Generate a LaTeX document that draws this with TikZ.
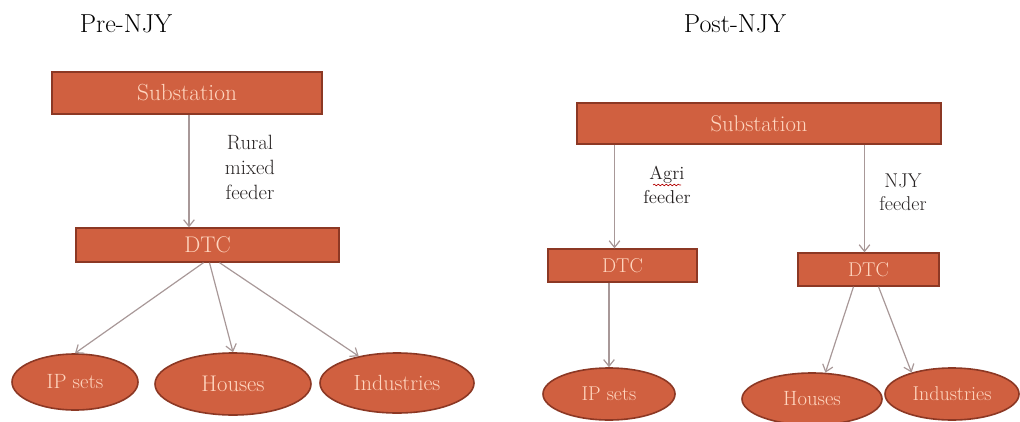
\documentclass[tikz,border=0pt]{standalone}
\usetikzlibrary{shapes.geometric,arrows.meta,calc,decorations.pathmorphing}
\definecolor{boxfill}{RGB}{208,96,64}
\definecolor{boxline}{RGB}{140,56,36}
\definecolor{boxtext}{RGB}{255,214,192}
\definecolor{arrowcol}{RGB}{168,152,152}
\definecolor{labelcol}{RGB}{40,36,36}
\tikzset{
  rbox/.style={rectangle, draw=boxline, fill=boxfill, line width=1pt, text=boxtext, inner sep=0pt, align=center},
  oval/.style={ellipse, draw=boxline, fill=boxfill, line width=1.2pt, text=boxtext, inner sep=0pt, align=center},
  conn/.style={draw=arrowcol, line width=0.9pt, -{Straight Barb[length=5pt,width=8pt]}},
  lbl/.style={text=labelcol, align=center, inner sep=0pt},
  ttl/.style={text=black, inner sep=0pt, font=\fontsize{19.5}{23}\selectfont}
}
\begin{document}
\begin{tikzpicture}[x=0.75pt,y=-0.75pt]
\path[use as bounding box] (0,0) rectangle (1020,421);

% ---------- Pre-NJY ----------
\node[ttl] (t1) at (126,24) {Pre-NJY};
\node[rbox, minimum width=270*0.75pt, minimum height=42*0.75pt, font=\fontsize{17.5}{20}\selectfont] (s1) at (187,93) {Substation};
\node[rbox, minimum width=263*0.75pt, minimum height=34*0.75pt, font=\fontsize{17}{20}\selectfont] (d1) at (207.5,245) {DTC};
\node[oval, minimum width=126*0.75pt, minimum height=56*0.75pt, font=\fontsize{15.5}{18}\selectfont] (ip1) at (75,382) {IP sets};
\node[oval, minimum width=156*0.75pt, minimum height=62*0.75pt, font=\fontsize{17}{20}\selectfont] (h1) at (233,384) {Houses};
\node[oval, minimum width=154*0.75pt, minimum height=60*0.75pt, font=\fontsize{16.5}{20}\selectfont] (i1) at (397,383) {Industries};
\node[lbl, font=\fontsize{15.5}{18.75}\selectfont] (l1) at (250,167) {Rural\\mixed\\feeder};

\draw[conn] ($(s1.south)+(2,0)$) -- ($(s1.south |- d1.north)+(2,0)$);
\draw[conn] ($(d1.south)+(-4,0)$) -- (ip1.north);
\draw[conn] ($(d1.south)+(2,0)$) -- (h1.north);
\draw[conn] ($(d1.south)+(12,0)$) -- (i1.145);

% ---------- Post-NJY ----------
\node[ttl] (t2) at (735,24) {Post-NJY};
\node[rbox, minimum width=364*0.75pt, minimum height=41*0.75pt, font=\fontsize{17}{20}\selectfont] (s2) at (759,123.5) {Substation};
\node[rbox, minimum width=149*0.75pt, minimum height=33*0.75pt, font=\fontsize{15}{18}\selectfont] (d2) at (622.5,265.5) {DTC};
\node[rbox, minimum width=141*0.75pt, minimum height=33*0.75pt, font=\fontsize{15}{18}\selectfont] (d3) at (868.5,269.5) {DTC};
\node[oval, minimum width=132*0.75pt, minimum height=52*0.75pt, font=\fontsize{15}{18}\selectfont] (ip2) at (609,394) {IP sets};
\node[oval, minimum width=140*0.75pt, minimum height=52*0.75pt, font=\fontsize{15.5}{18}\selectfont] (h2) at (812,399) {Houses};
\node[oval, minimum width=134*0.75pt, minimum height=52*0.75pt, font=\fontsize{15}{18}\selectfont] (i2) at (952,394) {Industries};
\node[lbl, font=\fontsize{14}{18}\selectfont] (l2) at (667,185) {\smash{Agri}\vphantom{Ag}\\feeder};
\node[lbl, font=\fontsize{15}{17.5}\selectfont] (l3) at (903,192) {NJY\\feeder};
\draw[red!70!black, line width=0.5pt, decorate, decoration={snake, amplitude=0.6pt, segment length=3pt}]
  ($(l2.north)+(-14,19)$) -- ($(l2.north)+(14,19)$);

\draw[conn] ($(d2.north |- s2.south)+(-8,0)$) -- ($(d2.north)+(-8,0)$);
\draw[conn] ($(d3.north |- s2.south)+(-4,0)$) -- ($(d3.north)+(-4,0)$);
\draw[conn] (ip2.north |- d2.south) -- (ip2.north);
\draw[conn] ($(d3.south)+(-15,0)$) -- (h2.63);
\draw[conn] ($(d3.south)+(10,0)$) -- (i2.152);
\end{tikzpicture}
\end{document}
